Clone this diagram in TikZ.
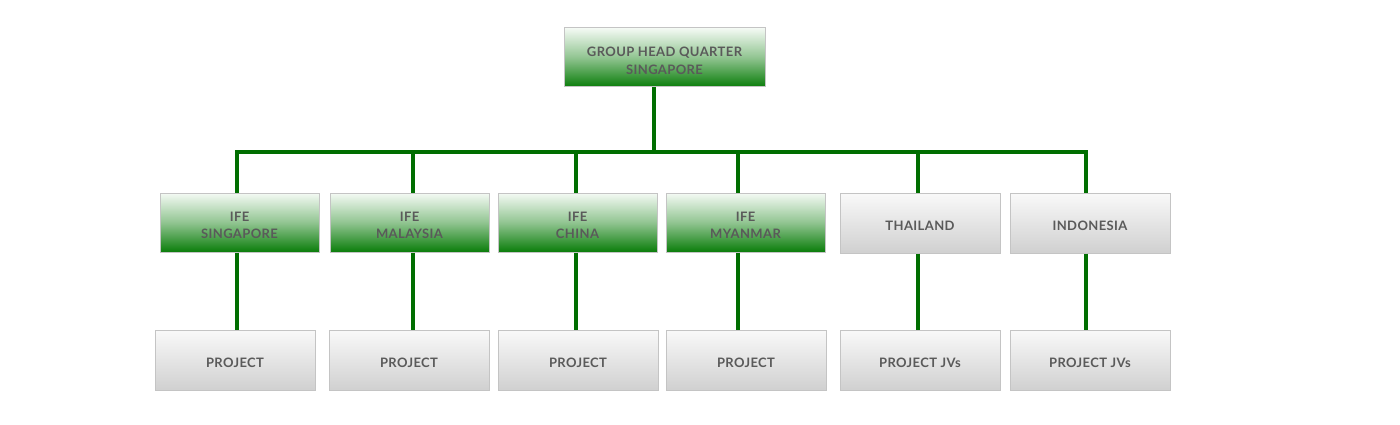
\documentclass[tikz,border=0pt]{standalone}
\usepackage{fontspec}
\setmainfont{Lato}[LetterSpace=3]
\definecolor{txt}{HTML}{5A5A5A}
\definecolor{gtop}{HTML}{F4FAF4}
\definecolor{gbot}{HTML}{0A7D0A}
\definecolor{ytop}{HTML}{F9F9F9}
\definecolor{ybot}{HTML}{D0D0D0}
\definecolor{bord}{HTML}{C4C4C4}
\definecolor{conncol}{HTML}{006E00}
\newcommand{\boxtext}[2][17]{\raisebox{0pt}[\dimexpr\height+9pt\relax][\depth]{\fontsize{13}{#1}\selectfont\bfseries\begin{tabular}{@{}c@{}}#2\end{tabular}}}
\tikzset{
  box/.style={draw=bord, line width=1pt, minimum width=159pt, minimum height=59pt, inner sep=0pt,
    text=txt},
  greenbox/.style={box, top color=gtop, bottom color=gbot, middle color=gbot!45!white},
  greybox/.style={box, top color=ytop, bottom color=ybot, minimum width=160pt, minimum height=60pt},
  conn/.style={draw=conncol, line width=4pt}
}
\begin{document}
\begin{tikzpicture}[x=1pt,y=-1pt]
\useasboundingbox (0,0) rectangle (1400,425);
% top
\node[greenbox, minimum width=201pt] (hq) at (664.5,57.5) {\boxtext[18]{GROUP HEAD QUARTER\\SINGAPORE}};
% middle row
\node[greenbox] (m1) at (239.5,222.5) {\boxtext{IFE\\SINGAPORE}};
\node[greenbox] (m2) at (409.5,222.5) {\boxtext{IFE\\MALAYSIA}};
\node[greenbox] (m3) at (577.5,222.5) {\boxtext{IFE\\CHINA}};
\node[greenbox] (m4) at (745.5,222.5) {\boxtext{IFE\\MYANMAR}};
\node[greybox] (m5) at (920,223) {\boxtext{THAILAND}};
\node[greybox] (m6) at (1090,223) {\boxtext{INDONESIA}};
% bottom row
\node[greybox] (b1) at (235,360) {\boxtext{PROJECT}};
\node[greybox] (b2) at (409,360) {\boxtext{PROJECT}};
\node[greybox] (b3) at (578,360) {\boxtext{PROJECT}};
\node[greybox] (b4) at (746,360) {\boxtext{PROJECT}};
\node[greybox] (b5) at (920,360) {\boxtext{PROJECT JVs}};
\node[greybox] (b6) at (1090,360) {\boxtext{PROJECT JVs}};
% bus coordinates
\coordinate (bus) at (654,152);
\coordinate (x1) at (237,152);
\coordinate (x2) at (413,152);
\coordinate (x3) at (576,152);
\coordinate (x4) at (738,152);
\coordinate (x5) at (918,152);
\coordinate (x6) at (1086,152);
\draw[conn] (hq.south -| bus) -- (bus);
\draw[conn, line cap=rect] (x1) -- (x6);
\foreach \i in {1,...,6}{
  \draw[conn] (x\i) -- (m\i.north -| x\i);
  \draw[conn] (m\i.south -| x\i) -- (b\i.north -| x\i);
}
\end{tikzpicture}
\end{document}
